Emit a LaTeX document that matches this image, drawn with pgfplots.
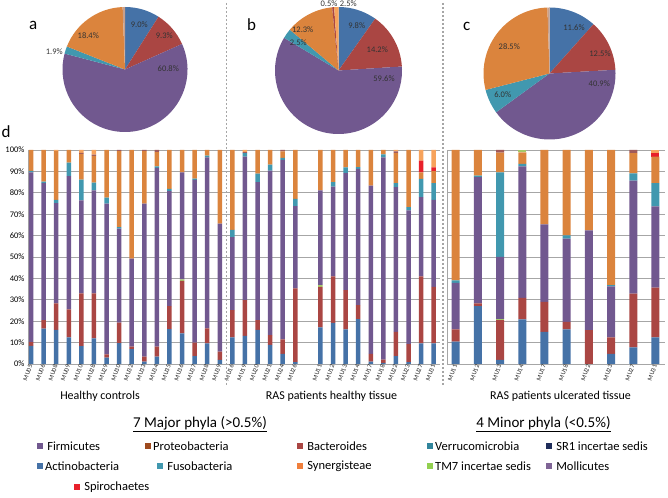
\documentclass[border=0pt]{standalone}
\usepackage{fontspec}
\setmainfont{Carlito}
\usepackage{pgfplots}
\usepackage{pgfplotstable}
\pgfplotsset{compat=1.18}
\definecolor{cblue}{HTML}{4572A7}
\definecolor{cred}{HTML}{AA4643}
\definecolor{cgreen}{HTML}{89A54E}
\definecolor{cpurple}{HTML}{71588F}
\definecolor{cteal}{HTML}{4198AF}
\definecolor{corange}{HTML}{DB843D}
\definecolor{cdkred}{HTML}{A05A5A}
\definecolor{cspiro}{HTML}{E8202A}
\definecolor{cltor}{HTML}{F7A35C}
\definecolor{ctm}{HTML}{A6C96A}
\definecolor{cpink}{HTML}{C8A08C}
\definecolor{cgrid}{HTML}{A6A6A6}
\definecolor{lbrown}{HTML}{9E4A1E}
\definecolor{lorange}{HTML}{F07F3C}
\definecolor{lnavy}{HTML}{1F2D5A}
\definecolor{lgreen}{HTML}{92D050}
\definecolor{lmoll}{HTML}{7F6496}
\definecolor{lverr}{HTML}{31859C}

\pgfplotstableread{
x  blue red  green purple teal orange dkred spiro ltor tmtop
0  8.5  1.7  0    79.4  0.6  9.8   0    0    0    0
1  16.5 4.0  0    64.0  0.7  14.8  0    0    0    0
2  15.9 12.4 0    46.9  1.5  22.8  0    0    0.5  0
3  12.4 13.1 0    62.3  6.3  5.9   0    0    0    0
4  8.4  24.6 0    43.4  9.7  12.1  0.4  0    1.4  0
5  12.0 21.0 0    48.1  3.6  12.6  0.5  0    2.2  0
6  3.0  1.5  0    70.4  2.8  22.3  0    0    0    0
7  9.8  9.5  0    43.9  0.8  35.5  0.5  0    0    0
8  7.0  1.1  0    41.1  0    50.8  0    0    0    0
9  1.1  2.3  0    71.5  0    24.6  0.5  0    0    0
10 3.4  4.7  0    83.5  0.7  6.7   1.0  0    0    0
11 16.3 10.8 0    53.7  1.0  18.2  0    0    0    0
12 14.3 24.5 0.7  50.0  0    10.5  0    0    0    0
13 3.7  6.3  0    76.0  0.6  13.4  0    0    0    0
14 9.6  7.0  0    80.0  0.8  2.6   0    0    0    0
15 1.9  3.9  0    59.8  0    34.4  0    0    0    0
16 12.4 12.8 0    34.1  3.4  37.3  0    0    0    0
17 13.1 16.8 0    67.0  1.6  0     0.5  0    1.0  0
18 15.9 4.6  0    64.5  3.9  11.1  0    0    0    0
19 8.9  4.6  0    76.9  2.8  6.8   0    0    0    0
20 4.7  6.8  0    83.9  0.9  3.0   0.7  0    0    0
21 0.9  34.4 0    38.5  3.4  22.8  0    0    0    0
23 17.1 18.9 0.9  44.2  0    18.9  0    0    0    0
24 19.2 21.8 0    41.9  2.1  15.0  0    0    0    0
25 16.2 18.3 0    54.7  2.7  8.1   0    0    0    0
26 21.0 6.5  0    63.7  0.8  8.0   0    0    0    0
27 1.1  3.6  0    78.7  0    16.6  0    0    0    0
28 0.5  1.5  0    94.6  1.3  2.1   0    0    0    0
29 3.7  11.3 0    67.6  1.9  14.0  0.8  0    0.7  0
30 0.9  8.4  0    62.5  1.5  26.7  0    0    0    0
31 9.6  31.4 0    37.0  8.5  3.1   0    5.4  5.0  0
32 9.6  26.4 0    40.7  7.8  5.6   0    1.8  8.1  0
}\tA

\pgfplotstableread{
x  blue red  green purple teal orange dkred spiro ltor tmtop
0  10.4 5.8  0    21.7  1.2  60.9  0    0    0    0
1  27.0 1.3  0    59.0  0.7  12.0  0    0    0    0
2  1.9  18.6 0.5  29.0  39.6 9.2   1.2  0    0    0
3  20.8 10.1 0    61.4  1.2  5.4   0    0    0    1.1
4  15.0 14.0 0    36.2  0    34.8  0    0    0    0
5  16.2 3.5  0    38.9  1.5  39.9  0    0    0    0
6  0    15.8 0    46.6  0    37.6  0    0    0    0
7  4.7  7.7  0    23.9  0.5  63.2  0    0    0    0
8  7.8  25.1 0    52.8  3.4  9.4   1.5  0    0    0
9  12.4 23.3 0    37.9  10.9 12.4  0    1.9  1.2  0
}\tB

\pgfplotsset{
  barax/.style={
    scale only axis, ybar stacked, ymin=0, ymax=100,
    ytick={0,10,...,100},
    ymajorgrids, grid style={draw=cgrid, line width=0.6pt},
    axis line style={draw=cgrid, line width=0.6pt},
    axis x line*=bottom, axis y line*=left,
    tick style={draw=none},
    x tick label style={rotate=70, anchor=east, font=\fontsize{6.5}{6.5}\selectfont, inner sep=1pt, text=black!85},
    y tick label style={font=\fontsize{8.5}{8.5}\selectfont},
    every axis plot/.append style={draw=none},
    /pgf/number format/assume math mode=true,
  }
}

\newcommand{\stackplots}[1]{%
  \addplot[fill=cblue]   table[x=x,y=blue]{#1};
  \addplot[fill=cred]    table[x=x,y=red]{#1};
  \addplot[fill=ctm]     table[x=x,y=green]{#1};
  \addplot[fill=cpurple] table[x=x,y=purple]{#1};
  \addplot[fill=cteal]   table[x=x,y=teal]{#1};
  \addplot[fill=corange] table[x=x,y=orange]{#1};
  \addplot[fill=cdkred]  table[x=x,y=dkred]{#1};
  \addplot[fill=cspiro]  table[x=x,y=spiro]{#1};
  \addplot[fill=cltor]   table[x=x,y=ltor]{#1};
  \addplot[fill=ctm]     table[x=x,y=tmtop]{#1};
}

\def\pieA{9.0/cblue,9.3/cred,60.8/cpurple,1.9/cteal,18.4/corange,0.6/cpink}
\def\pieB{9.8/cblue,14.2/cred,59.6/cpurple,2.5/cteal,12.3/corange,0.5/cred,1.1/cltor}
\def\pieC{11.6/cblue,12.5/cred,40.9/cpurple,6.0/cteal,28.5/corange,0.5/cpink}

\newcommand{\drawpie}[4]{% list, cx, cy, r
  \xdef\sa{90}%
  \foreach \v/\c in #1 {%
    \pgfmathsetmacro\ea{\sa-3.6*\v}%
    \fill[\c] (axis cs:#2,#3) -- ([shift={(\sa:#4pt)}]axis cs:#2,#3)
       arc[start angle=\sa, end angle=\ea, radius=#4pt] -- cycle;
    \xdef\sa{\ea}%
  }%
}

\newcommand{\lgd}[4]{% x y color text
  \fill[#3] (#1-3,#2-3) rectangle (#1+3,#2+3);
  \node[anchor=west, font=\fontsize{12.5}{12.5}\selectfont, inner sep=0pt] at (#1+5,#2) {#4};
}

\begin{document}
\begin{tikzpicture}
\path[use as bounding box] (0,0) rectangle (668pt,497pt);

% pies
\begin{axis}[at={(0pt,0pt)}, anchor=south west, scale only axis, width=668pt, height=497pt,
  xmin=0, xmax=668, ymin=0, ymax=497, y dir=reverse, hide axis, clip=false]
\pgfplotsextra{%
  \drawpie{\pieA}{125}{69.5}{62.5}
  \drawpie{\pieB}{338.5}{70.5}{63.5}
  \drawpie{\pieC}{549.5}{73.5}{66}
}
\end{axis}

% main bars
\begin{axis}[barax, at={(28pt,133pt)}, anchor=south west, width=412pt, height=214pt,
  bar width=4.5pt, xmin=-0.24, xmax=32.5,
  xtick={0,1,2,3,4,5,6,7,8,9,10,11,12,13,14,15,16,17,18,19,20,21,23,24,25,26,27,28,29,30,31,32},
  xticklabels={MU05,MU06,MU08,MU09,MU10,MU28,MU29,MU30,MU32,MU33,MU34,MU35,MU36,MU37,MU38,MU39,MU16,MU19,MU20,MU21,MU24,MU26,MU11,MU12,MU13,MU14,MU17,MU18,MU22,MU23,MU27,MU31},
  yticklabel={\pgfmathprintnumber{\tick}\%}]
\stackplots{\tA}
\end{axis}

\begin{axis}[barax, at={(447pt,133pt)}, anchor=south west, width=218pt, height=214pt,
  bar width=8pt, xmin=-0.39, xmax=9.43, axis y line*=none, yticklabels={},
  xtick={0,...,9},
  xticklabels={MU11,MU12,MU13,MU14,MU17,MU18,MU22,MU23,MU27,MU31}]
\stackplots{\tB}
\end{axis}

\begin{scope}[x=1pt,y=-1pt,yshift=497pt]
% separators
\draw[cgrid, line width=1.8pt, dash pattern=on 2pt off 2pt] (226.5,3) -- (226.5,386);
\draw[cgrid, line width=1.8pt, dash pattern=on 2pt off 2pt] (443,3) -- (443,386);

% pie labels
\begin{scope}[every node/.style={font=\fontsize{8.5}{8.5}\selectfont, text=black!80, inner sep=0pt}]
\node at (139.3,25) {9.0\%};
\node at (164.3,35.7) {9.3\%};
\node at (168.3,68.3) {60.8\%};
\node at (88.3,35.7) {18.4\%};
\node at (54.3,51.7) {1.9\%};
\node at (356.7,26) {9.8\%};
\node at (377.3,49.3) {14.2\%};
\node at (384,79) {59.6\%};
\node at (302.7,30) {12.3\%};
\node at (298.3,42.3) {2.5\%};
\node at (329,3.5) {0.5\%};
\node at (348.3,3.5) {2.5\%};
\node at (574,27.7) {11.6\%};
\node at (600,53.3) {12.5\%};
\node at (599.3,83.3) {40.9\%};
\node at (509.3,46.7) {28.5\%};
\node at (502.7,94.3) {6.0\%};
\end{scope}

% panel letters
\begin{scope}[every node/.style={font=\fontsize{17}{17}\selectfont, inner sep=0pt}]
\node at (33.3,25) {a};
\node at (251.7,25) {b};
\node at (466.7,26) {c};
\node at (6,131.7) {d};
\end{scope}

% group labels
\begin{scope}[every node/.style={font=\fontsize{12}{12}\selectfont, inner sep=0pt}]
\node at (100,396) {Healthy controls};
\node at (331.5,396) {RAS patients healthy tissue};
\node at (560.5,396) {RAS patients ulcerated tissue};
\end{scope}

\node[font=\fontsize{15}{15}\selectfont, inner sep=0pt] at (200,424) {\underline{7 Major phyla (>0.5\%)}};
\node[font=\fontsize{15}{15}\selectfont, inner sep=0pt] at (543.5,424) {\underline{4 Minor phyla (<0.5\%)}};

% legend
\lgd{40}{446}{cpurple}{\,Firmicutes}
\lgd{148}{446}{lbrown}{Proteobacteria}
\lgd{300}{446}{cred}{\,Bacteroides}
\lgd{430}{446}{lverr}{Verrucomicrobia}
\lgd{549}{446}{lnavy}{\,SR1 incertae sedis}
\lgd{40}{466}{cblue}{Actinobacteria}
\lgd{160}{466}{cteal}{\,Fusobacteria}
\lgd{300}{466}{lorange}{\,Synergisteae}
\lgd{430}{466}{lgreen}{TM7 incertae sedis}
\lgd{549}{466}{lmoll}{\,Mollicutes}
\lgd{77}{487}{cspiro}{\,Spirochaetes}
\end{scope}
\end{tikzpicture}
\end{document}
